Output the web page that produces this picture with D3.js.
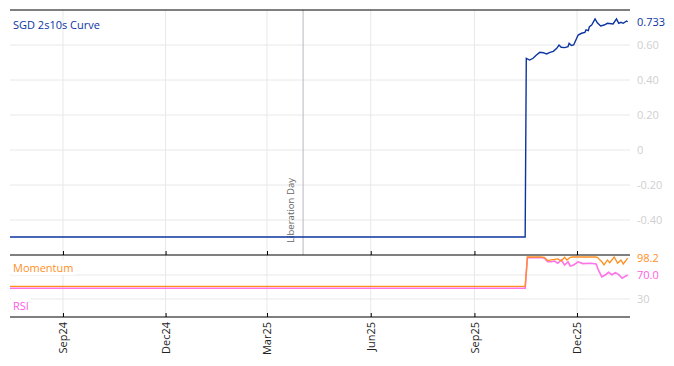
<!DOCTYPE html>
<html lang="en">
<head>
    <meta charset="UTF-8">
    <title>SGD 2s10s Curve</title>
    <script src="https://d3js.org/d3.v7.min.js"></script>
    <style>
        body { margin: 0; background: #fff; }
        text { font-family: "Open Sans", "Noto Sans", sans-serif; }
    </style>
</head>
<body>
<script>
    const width = 674;
    const height = 366;

    // data
    const curveDates = ["2024-07-16","2025-10-16","2025-10-17","2025-10-20","2025-10-23","2025-10-26","2025-10-29",
        "2025-11-01","2025-11-04","2025-11-07","2025-11-10","2025-11-13","2025-11-15","2025-11-17","2025-11-20",
        "2025-11-23","2025-11-24","2025-11-26","2025-11-28","2025-11-30","2025-12-02","2025-12-05","2025-12-08",
        "2025-12-09","2025-12-11","2025-12-12","2025-12-14","2025-12-17","2025-12-19","2025-12-22","2025-12-25",
        "2025-12-28","2026-01-02","2026-01-05","2026-01-07","2026-01-09","2026-01-11","2026-01-14","2026-01-15"];
    const curveValues = [-0.497,-0.497,0.524,0.514,0.524,0.543,0.558,
        0.556,0.549,0.558,0.564,0.581,0.600,0.587,0.585,
        0.590,0.610,0.597,0.600,0.629,0.657,0.667,0.672,
        0.686,0.682,0.705,0.714,0.749,0.727,0.709,0.714,
        0.724,0.720,0.749,0.724,0.730,0.724,0.737,0.733];

    const momDates = ["2024-07-16","2025-10-16","2025-10-18","2025-10-24","2025-10-29","2025-11-02","2025-11-05",
        "2025-11-08","2025-11-11","2025-11-14","2025-11-17","2025-11-20","2025-11-22","2025-11-25","2025-11-27",
        "2025-12-02","2025-12-08","2025-12-17","2025-12-19","2025-12-23","2025-12-25","2025-12-28","2025-12-30",
        "2026-01-03","2026-01-06","2026-01-09","2026-01-11","2026-01-15"];
    const momValues = [51,51,100,100,100,99.5,94,
        95,96,96.7,93.3,99.5,95,99.5,100,
        100,100,100,99.5,92,86.7,95,90.5,
        100,89.5,95,88.3,98.2];

    const rsiDates = ["2024-07-16","2025-10-16","2025-10-18","2025-10-24","2025-10-30","2025-11-02","2025-11-05",
        "2025-11-08","2025-11-11","2025-11-14","2025-11-17","2025-11-20","2025-11-23","2025-11-25","2025-11-28",
        "2025-12-02","2025-12-06","2025-12-13","2025-12-18","2025-12-20","2025-12-23","2025-12-26","2025-12-29",
        "2026-01-01","2026-01-04","2026-01-07","2026-01-10","2026-01-13","2026-01-15"];
    const rsiValues = [48,48,99,98.8,99,97.8,92,
        92,93.3,89.5,95,86.7,92,85,86.7,
        92,89,89.5,88.3,78,67,70,74.5,
        70.5,74,70.5,64.5,68,70.0];

    const curveTicks = [-0.4,-0.2,0,0.2,0.4,0.6];
    const curveTickLabels = ["-0.40","-0.20","0","0.20","0.40","0.60"];
    const oscTicks = [30,70];
    const xTickDates = ["2024-09-01","2024-12-01","2025-03-01","2025-06-01","2025-09-01","2025-12-01"];
    const eventDate = "2025-04-02";
    const eventLabel = "Liberation Day";

    const parse = d3.timeParse("%Y-%m-%d");
    const curve = curveDates.map((d, i) => ({date: parse(d), value: curveValues[i]}));
    const mom = momDates.map((d, i) => ({date: parse(d), value: momValues[i]}));
    const rsi = rsiDates.map((d, i) => ({date: parse(d), value: rsiValues[i]}));

    const left = 10, right = 630;
    const top1 = 10, bottom1 = 255;
    const top2 = 255, bottom2 = 317;

    const x = d3.scaleTime()
            .domain([parse("2024-07-16"), parse("2026-01-17")])
            .range([left, right]);
    const y1 = d3.scaleLinear().domain([-0.6, 0.8]).range([bottom1, top1]);
    const y2 = d3.scaleLinear().domain([0, 103.3]).range([bottom2, top2]);

    const svg = d3.select("body").append("svg")
            .attr("width", width).attr("height", height);

    const grid = "#e8e8e8";
    const blue = "#0b34a0";
    const orange = "#ff8f1f";
    const pink = "#ff5be3";
    const xTicks = xTickDates.map(parse);

    // vertical gridlines, both panels
    svg.append("g").selectAll("line")
            .data(xTicks).enter().append("line")
            .attr("x1", d => x(d)).attr("x2", d => x(d))
            .attr("y1", top1).attr("y2", bottom2)
            .style("stroke", grid).style("stroke-width", 1);

    // horizontal gridlines top panel
    svg.append("g").selectAll("line")
            .data(curveTicks).enter().append("line")
            .attr("x1", left).attr("x2", right)
            .attr("y1", d => y1(d)).attr("y2", d => y1(d))
            .style("stroke", grid);

    // horizontal gridlines bottom panel
    svg.append("g").selectAll("line")
            .data(oscTicks).enter().append("line")
            .attr("x1", left).attr("x2", right)
            .attr("y1", d => y2(d)).attr("y2", d => y2(d))
            .style("stroke", grid);

    // event marker
    svg.append("line")
            .attr("x1", x(parse(eventDate))).attr("x2", x(parse(eventDate)))
            .attr("y1", top1).attr("y2", bottom1)
            .style("stroke", "#b8b8c0").style("stroke-width", 1);
    svg.append("text")
            .attr("transform", `translate(${x(parse(eventDate)) - 9},${bottom1 - 12}) rotate(-90)`)
            .style("font-size", "9.6px").style("fill", "#666")
            .text(eventLabel);

    // y labels
    svg.append("g").selectAll("text")
            .data(curveTicks).enter().append("text")
            .attr("x", 637).attr("y", d => y1(d)).attr("dy", "0.35em")
            .style("font-size", "11px").style("fill", "#cfcfcf")
            .text((d, i) => curveTickLabels[i]);
    svg.append("g").selectAll("text")
            .data([30]).enter().append("text")
            .attr("x", 637).attr("y", d => y2(d)).attr("dy", "0.35em")
            .style("font-size", "11px").style("fill", "#cfcfcf")
            .text(d => d);

    // lines
    const line1 = d3.line().x(d => x(d.date)).y(d => y1(d.value));
    const line2 = d3.line().x(d => x(d.date)).y(d => y2(d.value));

    svg.append("path").datum(curve)
            .attr("d", line1)
            .style("fill", "none").style("stroke", blue).style("stroke-width", 1.4);

    svg.append("path").datum(rsi)
            .attr("d", line2)
            .style("fill", "none").style("stroke", pink).style("stroke-width", 1.6)
            .style("stroke-opacity", 0.85);
    svg.append("path").datum(mom)
            .attr("d", line2)
            .style("fill", "none").style("stroke", orange).style("stroke-width", 1.3);

    // panel borders
    [top1, bottom1, bottom2].forEach(yy => {
        svg.append("line").attr("x1", left).attr("x2", right)
                .attr("y1", yy).attr("y2", yy)
                .style("stroke", "#000").style("stroke-width", 1);
    });

    // x ticks pointing inward, labels under lower panel
    svg.append("g").attr("transform", `translate(0,${bottom1})`)
            .call(d3.axisTop(x).tickValues(xTicks).tickSize(4).tickFormat(""))
            .call(g => g.select(".domain").remove());
    const xa = svg.append("g").attr("transform", `translate(0,${bottom2})`)
            .call(d3.axisTop(x).tickValues(xTicks).tickSize(4).tickFormat(d3.timeFormat("%b%y")))
            .call(g => g.select(".domain").remove());
    xa.selectAll("text")
            .attr("transform", "rotate(-90)")
            .attr("x", -5).attr("y", 0).attr("dy", "0.35em")
            .style("text-anchor", "end")
            .style("font-family", "'Open Sans', 'Noto Sans', sans-serif")
            .style("font-size", "11px").style("fill", "#222");

    // title and last-value labels
    svg.append("text").attr("x", 13).attr("y", 25).attr("dy", "0.35em")
            .style("font-size", "11px").style("fill", blue)
            .text("SGD 2s10s Curve");
    svg.append("text").attr("x", 637).attr("y", y1(curveValues[curveValues.length - 1])).attr("dy", "0.35em")
            .style("font-size", "11px").style("fill", blue)
            .text(d3.format(".3f")(curveValues[curveValues.length - 1]));
    svg.append("text").attr("x", 637).attr("y", y2(momValues[momValues.length - 1])).attr("dy", "0.35em")
            .style("font-size", "11px").style("fill", orange)
            .text(d3.format(".1f")(momValues[momValues.length - 1]));
    svg.append("text").attr("x", 637).attr("y", y2(rsiValues[rsiValues.length - 1])).attr("dy", "0.35em")
            .style("font-size", "11px").style("fill", pink)
            .text(d3.format(".1f")(rsiValues[rsiValues.length - 1]));

    // panel legends with white backing
    function legend(label, yy, color) {
        const t = svg.append("text").attr("x", 13).attr("y", yy).attr("dy", "0.35em")
                .style("font-size", "11px").style("fill", color).text(label);
        const b = t.node().getBBox();
        svg.insert("rect", "text")
                .attr("x", b.x - 2).attr("y", b.y).attr("width", b.width + 4).attr("height", b.height)
                .style("fill", "#fff");
    }
    legend("Momentum", 268, orange);
    legend("RSI", 306, pink);
</script>
</body>
</html>
